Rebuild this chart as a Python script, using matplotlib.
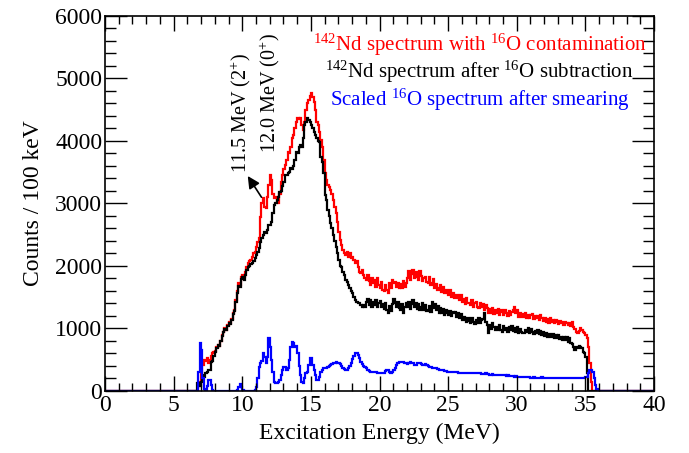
import numpy as np
import matplotlib
matplotlib.use("Agg")
import matplotlib.pyplot as plt
from matplotlib.ticker import MultipleLocator

plt.rcParams['font.family'] = ['Liberation Serif', 'DejaVu Serif']
plt.rcParams['mathtext.fontset'] = 'custom'
plt.rcParams['mathtext.rm'] = 'Liberation Serif'
plt.rcParams['mathtext.it'] = 'Liberation Serif:italic'

# Histogram binning: 100 keV bins over 0-40 MeV
bin_width = 0.1
x_min, x_max = 0.0, 40.0
data_start = 6.5  # first bin edge of the tabulated counts below

# 142Nd spectrum with 16O contamination (counts per 100 keV, from 6.5 MeV)
nd_with_o = [
    0, 0, 0, 80, 150, 300, 420, 500, 480, 520,
    450, 500, 560, 600, 620, 640, 700, 740, 720, 800,
    900, 950, 1000, 980, 1060, 1100, 1090, 1150, 1250, 1300,
    1450, 1600, 1720, 1700, 1830, 1860, 1820, 1900, 1980, 2050,
    2080, 2100, 2150, 2200, 2230, 2300, 2380, 2450, 2780, 3000,
    3080, 2950, 2930, 3100, 3300, 3460, 3380, 3150, 3080, 3100,
    3020, 3000, 3150, 3340, 3450, 3550, 3620, 3700, 3820, 3800,
    3900, 4050, 4100, 4200, 4300, 4370, 4350, 4370, 4250, 4180,
    4300, 4500, 4600, 4650, 4720, 4770, 4700, 4620, 4500, 4300,
    4250, 4150, 4020, 3900, 3700, 3490, 3380, 3300, 3260, 3220,
    3150, 3050, 2950, 2850, 2700, 2550, 2420, 2330, 2250, 2200,
    2180, 2230, 2150, 2200, 2120, 2150, 2100, 2050, 2080, 1980,
    1900, 1890, 1930, 1850, 1800, 1780, 1850, 1760, 1700, 1800,
    1720, 1780, 1660, 1800, 1700, 1640, 1740, 1610, 1600, 1700,
    1620, 1570, 1720, 1650, 1780, 1730, 1750, 1670, 1730, 1650,
    1710, 1640, 1760, 1670, 1720, 1810, 1920, 1770, 1870, 1930,
    1810, 1900, 1820, 1780, 1920, 1840, 1760, 1800, 1830, 1740,
    1730, 1820, 1690, 1730, 1790, 1640, 1710, 1610, 1650, 1690,
    1590, 1660, 1570, 1610, 1570, 1530, 1610, 1510, 1560, 1490,
    1480, 1540, 1490, 1450, 1530, 1430, 1470, 1390, 1480, 1410,
    1400, 1370, 1450, 1340, 1410, 1420, 1350, 1320, 1400, 1340,
    1390, 1290, 1380, 1320, 1240, 1310, 1250, 1320, 1230, 1290,
    1240, 1310, 1220, 1290, 1260, 1210, 1300, 1240, 1200, 1280,
    1220, 1270, 1300, 1340, 1240, 1290, 1190, 1250, 1180, 1230,
    1180, 1240, 1170, 1220, 1160, 1210, 1230, 1150, 1200, 1170,
    1200, 1140, 1210, 1160, 1120, 1170, 1110, 1150, 1090, 1160,
    1100, 1140, 1080, 1130, 1100, 1070, 1120, 1080, 1110, 1060,
    1100, 1090, 1060, 1090, 1040, 1100, 1030, 990, 950, 930,
    960, 1010, 980, 950, 930, 900, 850, 700, 450, 150,
    0, 0, 0, 0, 0,
]

# 142Nd spectrum after 16O subtraction
nd_subtracted = [
    0, 0, 130, 130, 80, 150, 250, 220, 290, 300,
    340, 330, 460, 480, 560, 620, 690, 740, 720, 800,
    880, 940, 990, 970, 1040, 1080, 1070, 1130, 1230, 1280,
    1420, 1560, 1680, 1660, 1790, 1820, 1780, 1860, 1930, 1990,
    2000, 2030, 2050, 2080, 2120, 2180, 2220, 2280, 2380, 2450,
    2500, 2540, 2520, 2580, 2650, 2650, 2700, 2850, 2980, 3000,
    3050, 3100, 3180, 3200, 3280, 3350, 3460, 3450, 3480, 3500,
    3570, 3550, 3600, 3700, 3820, 3800, 3900, 3940, 3900, 4050,
    4250, 4300, 4370, 4330, 4300, 4250, 4200, 4140, 4100, 4050,
    4000, 3980, 3740, 3660, 3490, 3140, 3060, 2900, 2800, 2690,
    2600, 2500, 2400, 2300, 2200, 2100, 2000, 1980, 1900, 1850,
    1780, 1750, 1700, 1650, 1600, 1570, 1500, 1450, 1420, 1410,
    1400, 1380, 1350, 1370, 1340, 1430, 1470, 1370, 1450, 1350,
    1430, 1370, 1460, 1340, 1410, 1440, 1340, 1390, 1310, 1410,
    1300, 1240, 1360, 1280, 1390, 1470, 1400, 1340, 1430, 1320,
    1290, 1390, 1250, 1340, 1410, 1340, 1420, 1310, 1390, 1450,
    1340, 1410, 1310, 1390, 1300, 1350, 1400, 1300, 1370, 1280,
    1300, 1360, 1270, 1420, 1320, 1390, 1290, 1360, 1250, 1330,
    1240, 1310, 1220, 1290, 1240, 1210, 1280, 1200, 1260, 1250,
    1260, 1190, 1240, 1170, 1230, 1130, 1190, 1140, 1110, 1170,
    1120, 1090, 1160, 1100, 1070, 1140, 1090, 1160, 1080, 1130,
    1150, 1250, 1100, 1050, 930, 1060, 990, 1090, 1020, 980,
    1030, 970, 1060, 980, 950, 1040, 970, 1010, 940, 1020,
    980, 1040, 960, 1010, 940, 1020, 920, 990, 950, 930,
    920, 980, 940, 1000, 930, 990, 950, 910, 960, 920,
    980, 910, 960, 890, 940, 880, 930, 860, 910, 870,
    860, 910, 850, 900, 840, 890, 830, 870, 820, 860,
    810, 860, 790, 840, 770, 750, 700, 650, 710, 680,
    720, 700, 680, 620, 600, 540, 290, 0, 0, 0,
    0, 0, 0, 0, 0,
]

# Scaled 16O spectrum after smearing
o16_scaled = [
    0, 0, 0, 300, 770, 650, 200, 30, 20, 80,
    180, 170, 100, 20, 0, 0, 0, 0, 0, 0,
    0, 0, 0, 0, 0, 0, 0, 0, 0, 0,
    0, 20, 60, 110, 60, 10, 0, 0, 0, 0,
    0, 0, 0, 0, 10, 60, 200, 380, 450, 480,
    600, 540, 450, 550, 850, 700, 500, 300, 150, 130,
    130, 150, 180, 250, 330, 390, 380, 340, 360, 500,
    700, 780, 760, 700, 720, 600, 400, 250, 150, 130,
    200, 290, 300, 420, 530, 520, 420, 340, 250, 180,
    180, 220, 300, 340, 370, 370, 360, 380, 400, 420,
    430, 440, 450, 460, 450, 450, 430, 400, 370, 350,
    340, 340, 360, 400, 450, 510, 560, 600, 610, 580,
    520, 470, 430, 400, 390, 370, 340, 320, 310, 310,
    300, 300, 300, 290, 290, 290, 290, 280, 290, 320,
    340, 330, 300, 290, 300, 330, 370, 410, 440, 460,
    460, 470, 460, 450, 440, 430, 440, 460, 450, 440,
    420, 420, 440, 450, 440, 430, 420, 420, 430, 420,
    400, 390, 380, 370, 370, 360, 360, 350, 340, 340,
    330, 330, 320, 320, 310, 310, 310, 300, 300, 300,
    300, 300, 290, 290, 290, 290, 290, 290, 280, 290,
    290, 290, 290, 280, 280, 290, 290, 280, 280, 270,
    270, 270, 280, 270, 270, 260, 260, 270, 260, 260,
    260, 260, 250, 250, 260, 250, 250, 240, 250, 240,
    240, 240, 240, 230, 240, 230, 230, 230, 230, 220,
    220, 220, 220, 220, 220, 210, 210, 220, 210, 210,
    210, 210, 210, 220, 210, 210, 210, 210, 200, 210,
    210, 210, 210, 210, 210, 210, 210, 210, 210, 210,
    210, 210, 210, 210, 210, 210, 210, 210, 210, 210,
    210, 210, 210, 210, 210, 220, 230, 280, 330, 340,
    300, 200, 100, 30, 0,
]

n_bins = int(round((x_max - x_min) / bin_width))
edges = x_min + bin_width * np.arange(n_bins + 1)
offset = int(round((data_start - x_min) / bin_width))


def full_hist(values):
    counts = np.zeros(n_bins)
    counts[offset:offset + len(values)] = values
    return counts


fig = plt.figure(figsize=(6.89, 4.53), dpi=100)
ax = fig.add_axes([0.1524, 0.1369, 0.7968, 0.8278])

for vals, col in [(nd_with_o, '#ff0000'), (nd_subtracted, '#000000'), (o16_scaled, '#0000ff')]:
    ax.stairs(full_hist(vals), edges, color=col, linewidth=1.6, baseline=None)

ax.set_xlim(x_min, x_max)
ax.set_ylim(0, 6000)

ax.xaxis.set_major_locator(MultipleLocator(5))
ax.xaxis.set_minor_locator(MultipleLocator(1))
ax.yaxis.set_major_locator(MultipleLocator(1000))
ax.yaxis.set_minor_locator(MultipleLocator(200))
ax.tick_params(which='both', direction='in', top=True, right=True, width=1.0,
               labelsize=17, colors='black')
ax.tick_params(axis='x', which='major', length=11, pad=3)
ax.tick_params(axis='x', which='minor', length=6)
ax.tick_params(axis='y', which='major', length=16, pad=2)
ax.tick_params(axis='y', which='minor', length=8)
for s in ax.spines.values():
    s.set_linewidth(1.2)

ax.set_xlabel('Excitation Energy (MeV)', fontsize=17, labelpad=5)
ax.set_ylabel('Counts / 100 keV', fontsize=17, labelpad=8)

# Legend-style coloured captions
ax.text(27.3, 5536, r'$^{142}$Nd spectrum with $^{16}$O contamination',
        color='#ff0000', fontsize=15, ha='center', va='center')
ax.text(27.3, 5104, r'$^{142}$Nd spectrum after $^{16}$O subtraction',
        color='black', fontsize=15, ha='center', va='center')
ax.text(27.3, 4656, r'Scaled $^{16}$O spectrum after smearing',
        color='#0000ff', fontsize=15, ha='center', va='center')

# State annotations
ax.text(9.9, 3480, r'11.5 MeV (2$^{+}$)', rotation=90, fontsize=14.5,
        ha='center', va='bottom')
ax.text(12.0, 3800, r'12.0 MeV (0$^{+}$)', rotation=90, fontsize=14.5,
        ha='center', va='bottom')
ax.annotate('', xy=(10.4, 3440), xytext=(11.4, 3100),
            arrowprops=dict(arrowstyle='-|>', color='black', lw=1.2,
                            mutation_scale=18, shrinkA=0, shrinkB=0))

fig.savefig('out.png', dpi=100)
